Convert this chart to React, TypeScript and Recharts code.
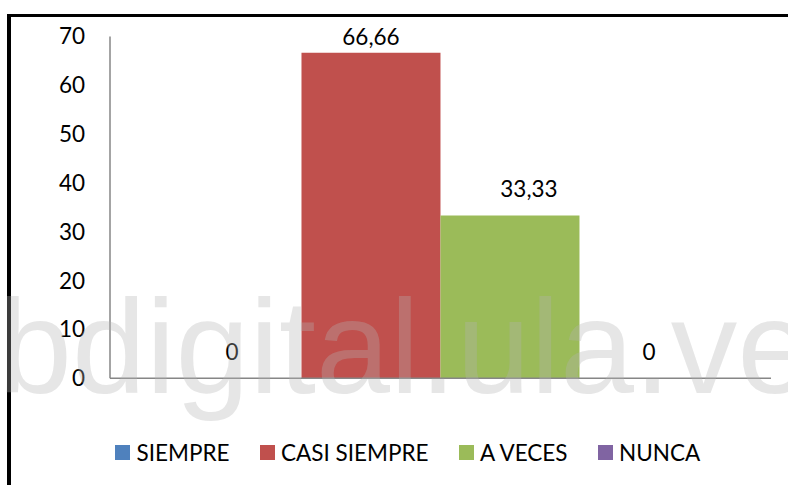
import React from 'react';
import { BarChart, Bar, XAxis, YAxis, Legend, LabelList } from 'recharts';

const categories = [''];
const seriesNames = ['SIEMPRE', 'CASI SIEMPRE', 'A VECES', 'NUNCA'];
const seriesValues = [0, 66.66, 33.33, 0];
const seriesColors = ['#4F81BD', '#C0504D', '#9BBB59', '#8064A2'];
const labelShift = [0, 0, 19, 0];
const yTicks = [0, 10, 20, 30, 40, 50, 60, 70];

const data = categories.map((c) => {
  const row: Record<string, any> = { name: c };
  seriesNames.forEach((s, i) => {
    row[s] = seriesValues[i];
  });
  return row;
});

const FONT = 'Lato, "Open Sans", sans-serif';

const fmt = (v: number) => String(v).replace('.', ',');

const makeLabel = (dx: number) => (props: any) => {
  const x = Number(props.x);
  const y = Number(props.y);
  const w = Number(props.width);
  const base = Math.max(y - 18.5, 45);
  return (
    <text
      x={x + w / 2 + dx}
      y={base}
      textAnchor="middle"
      fontFamily={FONT}
      fontSize={22.5}
      fill="#000"
    >
      {fmt(Number(props.value))}
    </text>
  );
};

const LegendContent = () => (
  <div
    style={{
      display: 'flex',
      alignItems: 'center',
      height: 25,
      fontFamily: FONT,
      fontSize: 22.5,
      color: '#000',
      whiteSpace: 'nowrap',
    }}
  >
    {seriesNames.map((s, i) => (
      <div key={s} style={{ display: 'flex', alignItems: 'center', marginRight: 30 }}>
        <div style={{ width: 15, height: 15, background: seriesColors[i], marginRight: 6.5 }} />
        <span>{s}</span>
      </div>
    ))}
  </div>
);

export default function App() {
  return (
    <div
      style={{
        position: 'absolute',
        left: 0,
        top: 0,
        width: 788,
        height: 485,
        background: '#fff',
        overflow: 'hidden',
      }}
    >
      <div
        style={{
          position: 'absolute',
          left: 7,
          top: 14,
          width: 900,
          height: 600,
          borderLeft: '4px solid #000',
          borderTop: '3px solid #000',
          boxSizing: 'border-box',
        }}
      />
      <div style={{ position: 'absolute', left: 0, top: 0 }}>
        <BarChart
          width={788}
          height={485}
          data={data}
          margin={{ top: 36.4, right: 17, left: 0, bottom: 105.7 }}
          barCategoryGap="7.94%"
          barGap={0}
        >
          <XAxis
            dataKey="name"
            height={1}
            tick={false}
            tickLine={false}
            axisLine={{ stroke: '#868686', strokeWidth: 1.5 }}
          />
          <YAxis
            width={110}
            domain={[0, 70]}
            ticks={yTicks}
            interval={0}
            tickLine={false}
            tickSize={0}
            tickMargin={25}
            axisLine={{ stroke: '#868686', strokeWidth: 1.5 }}
            tick={{ fill: '#000', fontSize: 22.5, fontFamily: FONT }}
          />
          <Legend
            layout="vertical"
            align="center"
            verticalAlign="middle"
            wrapperStyle={{ left: 115, top: 440, width: 660 }}
            content={<LegendContent />}
          />
          {seriesNames.map((s, i) => (
            <Bar
              key={s}
              dataKey={s}
              fill={seriesColors[i]}
              minPointSize={0.01}
              isAnimationActive={false}
            >
              <LabelList dataKey={s} content={makeLabel(labelShift[i])} />
            </Bar>
          ))}
        </BarChart>
      </div>
      <svg
        width={788}
        height={485}
        style={{ position: 'absolute', left: 0, top: 0, pointerEvents: 'none' }}
      >
        <text
          x={-2}
          y={393}
          fontFamily='"Liberation Sans", Arial, sans-serif'
          fontSize={133}
          fill="rgb(178,178,178)"
          fillOpacity={0.33}
        >
          bdigital.ula.ve
        </text>
      </svg>
    </div>
  );
}
